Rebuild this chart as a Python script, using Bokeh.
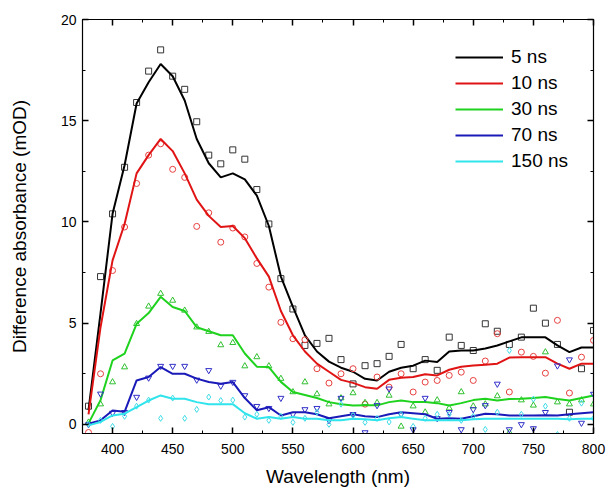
from bokeh.plotting import figure
from bokeh.models import (Range1d, LinearAxis, SingleIntervalTicker, Legend, LegendItem,
                          CustomLabelingPolicy)
from bokeh.embed import file_html
from bokeh.resources import INLINE

wavelength = list(range(380, 801, 10))

# smoothed curves (lines)
fit_5ns = [0.7, 5.5, 10.4, 12.8, 15.85, 16.9, 17.8, 17.2, 16.0, 14.1, 12.9, 12.2, 12.4, 12.1, 11.3,
           9.8, 7.3, 5.8, 4.4, 3.6, 3.1, 2.8, 2.6, 2.25, 2.17, 2.6, 2.8, 2.9, 3.15, 3.08, 3.6, 3.65,
           3.65, 3.75, 3.9, 4.1, 4.3, 4.3, 4.3, 3.9, 3.57, 3.8, 3.8]
fit_10ns = [0.5, 4.8, 8.1, 9.9, 12.4, 13.3, 14.1, 13.5, 12.4, 11.1, 10.3, 9.75, 9.8, 9.2, 8.2,
            7.3, 5.6, 4.4, 3.6, 3.0, 2.6, 2.2, 2.05, 1.84, 1.76, 2.2, 2.3, 2.34, 2.48, 2.42, 2.7, 2.85,
            2.91, 2.95, 3.0, 3.3, 3.32, 3.32, 3.32, 3.0, 2.75, 3.0, 3.0]
fit_30ns = [0.05, 1.2, 3.16, 3.5, 4.97, 5.5, 6.3, 5.8, 5.6, 4.8, 4.6, 4.4, 4.4, 3.5, 2.85,
            2.83, 2.1, 1.6, 1.45, 1.3, 1.1, 1.0, 0.93, 0.95, 0.94, 1.1, 1.18, 1.1, 1.1, 1.05, 0.93, 1.05,
            1.2, 1.27, 1.18, 1.25, 1.27, 1.3, 1.35, 1.25, 1.18, 1.3, 1.43]
fit_70ns = [0.03, 0.2, 0.69, 0.62, 2.17, 2.34, 2.83, 2.5, 2.5, 2.26, 2.09, 2.01, 2.09, 1.3, 0.7,
            0.85, 0.44, 0.6, 0.6, 0.5, 0.3, 0.4, 0.5, 0.4, 0.36, 0.5, 0.6, 0.55, 0.5, 0.28, 0.3, 0.28,
            0.4, 0.53, 0.5, 0.44, 0.44, 0.44, 0.45, 0.44, 0.5, 0.55, 0.6]
fit_150ns = [-0.05, 0.12, 0.44, 0.53, 0.85, 1.18, 1.43, 1.27, 1.27, 1.1, 1.0, 1.0, 1.0, 0.55, 0.28,
             0.36, 0.28, 0.36, 0.28, 0.28, 0.2, 0.2, 0.28, 0.25, 0.2, 0.3, 0.36, 0.28, 0.2, 0.2, 0.2, 0.2,
             0.25, 0.28, 0.28, 0.28, 0.28, 0.28, 0.28, 0.28, 0.25, 0.28, 0.28]

# measured points (markers)
pts_5ns = [0.9, 7.3, 10.4, 12.7, 15.9, 17.45, 18.5, 17.2, 16.55, 14.95, 13.3, 12.87, 13.56, 13.1, 11.6,
           9.9, 7.2, 5.7, 3.9, 4.0, 4.25, 3.2, 2.0, 2.9, 3.0, 3.36, 3.95, 2.75, 3.2, 2.67, 4.31, 3.9,
           3.65, 4.97, 4.6, 3.95, 4.31, 5.74, 5.0, 3.95, 0.6, 2.75, 4.64]
pts_10ns = [-0.4, 2.5, 7.6, 9.75, 11.9, 13.3, 13.86, 12.6, 12.2, 9.78, 10.45, 9.0, 9.7, 9.26, 7.95,
            6.78, 5.04, 4.23, 4.18, 2.75, 2.04, 2.5, 2.75, 1.0, 2.34, 1.84, 2.5, 1.6, 2.09, 2.17, 2.42, 2.58,
            2.17, 3.13, 4.48, 1.6, 3.57, 3.36, 2.53, 5.14, 1.55, 3.32, 4.15]
pts_30ns = [0.1, 1.0, 2.09, 2.83, 4.97, 5.83, 6.46, 6.12, 5.63, 4.8, 4.58, 3.92, 4.03, 2.88, 3.33,
            2.88, 2.26, 1.6, 2.09, 1.5, 1.0, 1.3, 1.55, 1.07, 1.07, 1.43, -0.1, 0.9, 0.6, 1.2, 0.8, 1.6,
            0.9, 1.0, 1.4, -0.4, 1.2, 0.94, 3.57, 1.1, 1.0, 1.2, 1.0]
pts_70ns = [0.0, 1.51, 0.56, 0.6, 1.35, 2.3, 2.88, 2.88, 2.88, 2.2, 2.67, 1.9, 2.09, 1.43, 0.9,
            0.8, 1.3, 0.5, 0.74, 0.8, 0.2, 1.3, 0.5, -0.4, 0.94, 1.76, 0.5, -0.25, 1.3, 0.3, 0.6, -0.25,
            0.74, 0.94, 2.0, -0.25, 0.0, -0.2, 0.6, 2.9, 3.2, 0.07, 1.5]
pts_150ns = [0.0, 0.2, -0.1, 0.4, 0.9, 1.2, 0.3, 1.3, 0.3, 0.74, 1.35, 1.18, 1.2, 0.36, 0.5,
             0.2, 0.4, 0.1, 0.3, 0.6, 0.0, 1.0, 0.44, 0.1, 0.3, 0.12, 0.5, -0.1, 0.3, 0.5, 0.5, 0.2,
             0.4, -0.25, 0.6, 3.65, 0.5, 1.25, 0.9, -0.5, 0.3, 1.05, 0.3]

labels = ["5 ns", "10 ns", "30 ns", "70 ns", "150 ns"]
line_colors = ["#000000", "#e01414", "#1ed21e", "#1a1ab8", "#30e4ec"]
marker_colors = ["#333333", "#e84040", "#30c030", "#3030c8", "#40dce8"]
markers = ["square", "circle", "triangle", "inverted_triangle", "diamond"]
fits = [fit_5ns, fit_10ns, fit_30ns, fit_70ns, fit_150ns]
points = [pts_5ns, pts_10ns, pts_30ns, pts_70ns, pts_150ns]

FONT = "Liberation Sans"

p = figure(frame_width=511, frame_height=414, output_backend="svg", toolbar_location=None,
           x_range=Range1d(375, 800), y_range=Range1d(-0.45, 20),
           min_border_left=82, min_border_right=12, min_border_top=19, min_border_bottom=56)
p.grid.visible = False
p.outline_line_color = "black"
p.outline_line_width = 1.2
p.background_fill_color = "white"

p.xaxis.ticker = SingleIntervalTicker(interval=50, num_minor_ticks=2)
p.yaxis.ticker = SingleIntervalTicker(interval=5, num_minor_ticks=2)

for ax in [p.xaxis[0], p.yaxis[0]]:
    ax.major_tick_in = 6
    ax.major_tick_out = 0
    ax.minor_tick_in = 3
    ax.minor_tick_out = 0
    ax.axis_line_color = "black"
    ax.major_tick_line_color = "black"
    ax.minor_tick_line_color = "black"
    ax.major_tick_line_width = 1.5
    ax.major_label_text_font = FONT
    ax.major_label_text_font_size = "14px"
    ax.major_label_text_color = "black"
    ax.axis_label_text_font = FONT
    ax.axis_label_text_font_size = "19px"
    ax.axis_label_text_font_style = "normal"
    ax.axis_label_text_color = "black"

p.xaxis.axis_label = "Wavelength (nm)"
p.yaxis.axis_label = "Difference absorbance (mOD)"
p.xaxis.major_label_standoff = 10
p.xaxis.axis_label_standoff = 9
p.yaxis.major_label_standoff = 6
p.yaxis.axis_label_standoff = 28

hide_all = "const all = [...indices]; for (const i of all) indices.unset(i);"
top = LinearAxis(ticker=SingleIntervalTicker(interval=50, num_minor_ticks=2))
right = LinearAxis(ticker=SingleIntervalTicker(interval=5, num_minor_ticks=2))
for ax in [top, right]:
    ax.major_tick_in = 6
    ax.major_tick_out = 0
    ax.minor_tick_in = 3
    ax.minor_tick_out = 0
    ax.major_tick_line_width = 1.5
    ax.major_label_standoff = 0
    ax.major_label_policy = CustomLabelingPolicy(code=hide_all)
    ax.axis_line_color = "black"
p.add_layout(top, "above")
p.add_layout(right, "right")

items = []
for lab, lc, mc, mk, fit, pts in zip(labels, line_colors, marker_colors, markers, fits, points):
    p.scatter(wavelength, pts, marker=mk, size=6, fill_color=None, line_color=mc, line_width=1)
    r = p.line(wavelength, fit, line_color=lc, line_width=2)
    items.append(LegendItem(label=lab, renderers=[r]))

legend = Legend(items=items, location=(373, 261))
legend.label_text_font = FONT
legend.label_text_font_size = "19px"
legend.label_text_color = "black"
legend.glyph_width = 48
legend.glyph_height = 20
legend.label_height = 20
legend.spacing = 4
legend.padding = 0
legend.margin = 0
legend.label_standoff = 8
legend.border_line_color = None
legend.background_fill_alpha = 0
p.add_layout(legend, "center")

open("out.html", "w").write(file_html(p, INLINE))
